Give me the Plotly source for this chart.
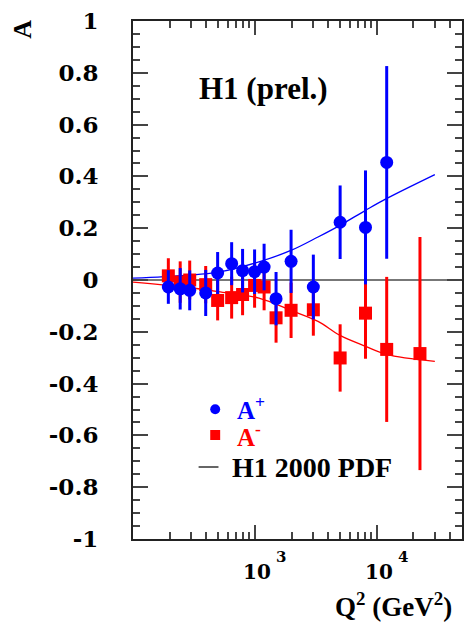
import math
import plotly.graph_objects as go

# ---------------- data ----------------
q2_plus = [195, 244, 292, 395, 495, 645, 793, 995, 1191, 1493, 1983, 3020, 5010, 8090, 12080]
a_plus = [-0.027, -0.034, -0.040, -0.050, 0.027, 0.063, 0.036, 0.032, 0.050, -0.072, 0.072, -0.027, 0.223, 0.203, 0.454]
a_plus_err = [0.065, 0.08, 0.077, 0.089, 0.081, 0.083, 0.084, 0.086, 0.09, 0.103, 0.122, 0.125, 0.142, 0.22, 0.372]

q2_minus = [195, 244, 292, 395, 495, 645, 793, 995, 1191, 1493, 1983, 3020, 5010, 8090, 12080, 22650]
a_minus = [0.016, -0.008, 0.0, -0.018, -0.079, -0.068, -0.056, -0.021, -0.027, -0.146, -0.117, -0.115, -0.301, -0.128, -0.268, -0.284]
a_minus_err = [0.068, 0.08, 0.075, 0.072, 0.077, 0.081, 0.08, 0.086, 0.09, 0.096, 0.107, 0.10, 0.13, 0.176, 0.28, 0.45]

curve_q2 = [100, 270, 500, 1080, 2000, 3300, 5000, 8100, 12000, 30000]
curve_plus = [0.007, 0.018, 0.030, 0.070, 0.115, 0.166, 0.211, 0.269, 0.314, 0.407]
curve_minus = [-0.008, -0.028, -0.045, -0.070, -0.118, -0.160, -0.214, -0.256, -0.287, -0.314]

y_ticks = [-1, -0.8, -0.6, -0.4, -0.2, 0, 0.2, 0.4, 0.6, 0.8, 1]
y_ticktext = ["-1", "-0.8", "-0.6", "-0.4", "-0.2", "0", "0.2", "0.4", "0.6", "0.8", "1"]
x_ticks = [1000, 10000]
x_tick_base = ["10", "10"]
x_tick_exponents = ["3", "4"]
x_minor = [200, 300, 400, 500, 600, 700, 800, 900,
           2000, 3000, 4000, 5000, 6000, 7000, 8000, 9000,
           20000, 30000, 40000]

BLUE = "#0000ff"
RED = "#ff0000"
SERIF = "Liberation Serif"
WIDE_SERIF = "DejaVu Serif"

# plot-area pixel geometry
L, R, T, B = 133, 464, 21, 539
W, H = 465, 624


def px(x):
    return (x - L) / (R - L)


def py(y):
    return (B - y) / (B - T)


fig = go.Figure()

fig.add_trace(go.Scatter(x=curve_q2, y=curve_minus, mode="lines",
                         line=dict(color=RED, width=1.3, shape="spline"),
                         showlegend=False, hoverinfo="skip"))
fig.add_trace(go.Scatter(x=curve_q2, y=curve_plus, mode="lines",
                         line=dict(color=BLUE, width=1.3, shape="spline"),
                         showlegend=False, hoverinfo="skip"))
fig.add_trace(go.Scatter(x=q2_minus, y=a_minus, mode="markers",
                         marker=dict(symbol="square", size=13, color=RED),
                         error_y=dict(type="data", array=a_minus_err, color=RED,
                                      thickness=3, width=0),
                         showlegend=False))
fig.add_trace(go.Scatter(x=q2_plus, y=a_plus, mode="markers",
                         marker=dict(symbol="circle", size=13, color=BLUE),
                         error_y=dict(type="data", array=a_plus_err, color=BLUE,
                                      thickness=3, width=0),
                         showlegend=False))

axis_common = dict(showline=True, linecolor="#222222", linewidth=2, mirror="ticks",
                   ticks="inside", tickcolor="#444444", tickwidth=1.5, showgrid=False)

fig.update_xaxes(type="log", range=[2, 4.7], tickmode="array", tickvals=x_ticks,
                 ticklen=14, showticklabels=False,
                 minor=dict(tickmode="array", tickvals=x_minor, ticks="inside",
                            ticklen=7, tickcolor="#444444", tickwidth=1.5, showgrid=False),
                 zeroline=False, **axis_common)
fig.update_yaxes(range=[-1, 1], tickmode="array", tickvals=y_ticks, ticktext=y_ticktext,
                 ticklen=15,
                 tickfont=dict(family=WIDE_SERIF, size=23, color="black", weight="bold"),
                 ticklabelstandoff=28,
                 minor=dict(dtick=0.05, ticks="inside", ticklen=7, tickcolor="#444444",
                            tickwidth=1.5, showgrid=False),
                 zeroline=True, zerolinecolor="#777777", zerolinewidth=2,
                 **axis_common)

annotations = [
    dict(text="<b>H1 (prel.)</b>", x=px(264.5), y=py(89), xref="paper", yref="paper",
         showarrow=False, font=dict(family=SERIF, size=31, color="black"),
         xanchor="center", yanchor="middle"),
    dict(text="<b>A</b>", x=px(22), y=py(29), xref="paper", yref="paper",
         showarrow=False, textangle=-90, font=dict(family=SERIF, size=26, color="black"),
         xanchor="center", yanchor="middle"),
    dict(text="<b>Q<sup>2</sup> (GeV<sup>2</sup>)</b>", x=px(456), y=py(605),
         xref="paper", yref="paper", showarrow=False,
         font=dict(family=SERIF, size=27, color="black"), xanchor="right", yanchor="middle"),
    dict(text="<b>A<sup>+</sup></b>", x=px(236), y=py(408), xref="paper", yref="paper",
         showarrow=False, font=dict(family=SERIF, size=25, color=BLUE),
         xanchor="left", yanchor="middle"),
    dict(text="<b>A<sup>-</sup></b>", x=px(236), y=py(435), xref="paper", yref="paper",
         showarrow=False, font=dict(family=SERIF, size=25, color=RED),
         xanchor="left", yanchor="middle"),
    dict(text="<b>H1 2000 PDF</b>", x=px(231), y=py(468), xref="paper", yref="paper",
         showarrow=False, font=dict(family=SERIF, size=28, color="black"),
         xanchor="left", yanchor="middle"),
]

# x tick labels (10^3, 10^4) placed on the log axis: base and exponent
for tv, base, ex in zip(x_ticks, x_tick_base, x_tick_exponents):
    annotations.append(dict(text="<b>" + base + "</b>",
                            x=math.log10(tv), xref="x", y=py(571.5), yref="paper",
                            xshift=-14, showarrow=False,
                            font=dict(family=WIDE_SERIF, size=20, color="black"),
                            xanchor="left", yanchor="middle"))
    annotations.append(dict(text="<b>" + ex + "</b>",
                            x=math.log10(tv), xref="x", y=py(557), yref="paper",
                            xshift=19, showarrow=False,
                            font=dict(family=WIDE_SERIF, size=15, color="black"),
                            xanchor="left", yanchor="middle"))

shapes = [
    dict(type="circle", xref="paper", yref="paper", x0=px(210.7), x1=px(220.7),
         y0=py(414.3), y1=py(404.3), fillcolor=BLUE, line=dict(width=0)),
    dict(type="rect", xref="paper", yref="paper", x0=px(210.7), x1=px(220.7),
         y0=py(440), y1=py(430), fillcolor=RED, line=dict(width=0)),
    dict(type="line", xref="paper", yref="paper", x0=px(199), x1=px(219),
         y0=py(467), y1=py(467), line=dict(color="black", width=1.2)),
]

fig.update_layout(width=W, height=H, margin=dict(l=L, r=W - R, t=T, b=H - B),
                  paper_bgcolor="white", plot_bgcolor="white",
                  annotations=annotations, shapes=shapes, showlegend=False)

fig.write_html("out.html")
